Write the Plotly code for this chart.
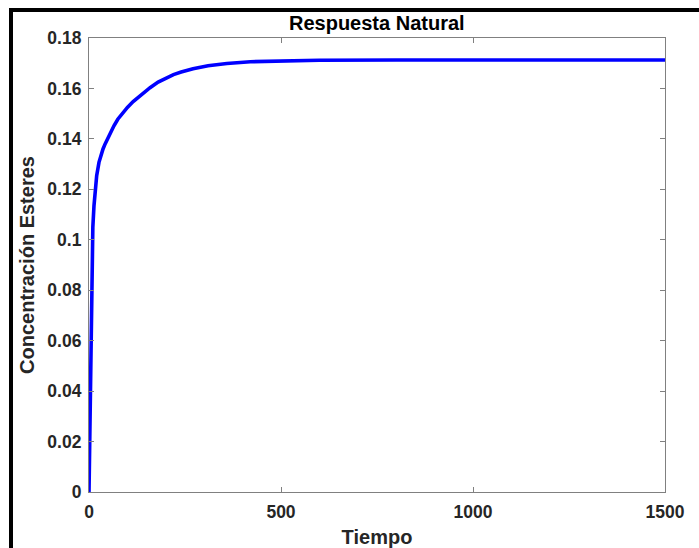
import plotly.graph_objects as go

# Data (time vs ester concentration)
tiempo = [0, 4, 8, 10, 13, 16.7, 20, 26, 31, 36.5, 42, 48, 56, 65, 75, 87, 100, 115, 130,
          145, 159, 180, 200, 220, 240, 271, 310, 359, 420, 500, 600, 800, 1000, 1500]
concentracion = [0, 0.05, 0.095, 0.105, 0.1135, 0.12, 0.1254, 0.1307, 0.1336, 0.136, 0.138,
                 0.14, 0.1427, 0.1452, 0.1478, 0.1503, 0.1525, 0.1548, 0.1568, 0.1587, 0.1603,
                 0.1625, 0.1642, 0.1655, 0.1665, 0.1678, 0.169, 0.1699, 0.1706, 0.171, 0.1712,
                 0.1713, 0.1713, 0.1713]

x_ticks = [0, 500, 1000, 1500]
y_ticks = [0, 0.02, 0.04, 0.06, 0.08, 0.1, 0.12, 0.14, 0.16, 0.18]
y_tick_labels = ["0", "0.02", "0.04", "0.06", "0.08", "0.1", "0.12", "0.14", "0.16", "0.18"]

W, H = 699, 548
L, R, T, B = 89, 665, 38, 492

def px(xp):
    return (xp - L) / (R - L)

def py(yp):
    return (B - yp) / (B - T)

font_fam = "Liberation Sans, Arial, sans-serif"
txt = "#262626"
axcol = "#808080"

fig = go.Figure()
fig.add_trace(go.Scatter(x=tiempo, y=concentracion, mode="lines",
                         line=dict(color="#0000FF", width=3.6), showlegend=False))

fig.update_layout(
    width=W, height=H,
    margin=dict(l=L, r=W - R, t=T, b=H - B, pad=0),
    paper_bgcolor="white", plot_bgcolor="white",
    font=dict(family=font_fam, color=txt),
    xaxis=dict(range=[0, 1500], tickvals=x_ticks, ticktext=[str(v) for v in x_ticks],
               showgrid=False, zeroline=False, showline=True, linecolor=axcol, linewidth=1.2,
               mirror="ticks", ticks="inside", ticklen=5, tickcolor=axcol, tickwidth=1,
               ticklabelstandoff=4, automargin=False,
               tickfont=dict(size=17.5, color=txt, family=font_fam, weight="bold"),
               title=dict(text="<b>Tiempo</b>", font=dict(size=20, color=txt), standoff=14)),
    yaxis=dict(range=[0, 0.18], tickvals=y_ticks, ticktext=y_tick_labels,
               showgrid=False, zeroline=False, showline=True, linecolor=axcol, linewidth=1.2,
               mirror="ticks", ticks="inside", ticklen=5, tickcolor=axcol, tickwidth=1,
               ticklabelstandoff=3, automargin=False,
               tickfont=dict(size=17.5, color=txt, family=font_fam, weight="bold"),
               title=dict(text="<b>Concentración Esteres</b>", font=dict(size=20, color=txt), standoff=7)),
    annotations=[dict(text="<b>Respuesta Natural</b>", x=0.5, y=py(23), xref="paper", yref="paper",
                      xanchor="center", yanchor="middle", showarrow=False,
                      font=dict(size=20, color="black", family=font_fam))],
    shapes=[
        dict(type="rect", xref="paper", yref="paper", x0=px(9), x1=px(700), y0=py(12), y1=py(8),
             fillcolor="black", line=dict(width=0), layer="above"),
        dict(type="rect", xref="paper", yref="paper", x0=px(9), x1=px(13), y0=py(549), y1=py(8),
             fillcolor="black", line=dict(width=0), layer="above"),
    ],
)

fig.write_html("out.html")
